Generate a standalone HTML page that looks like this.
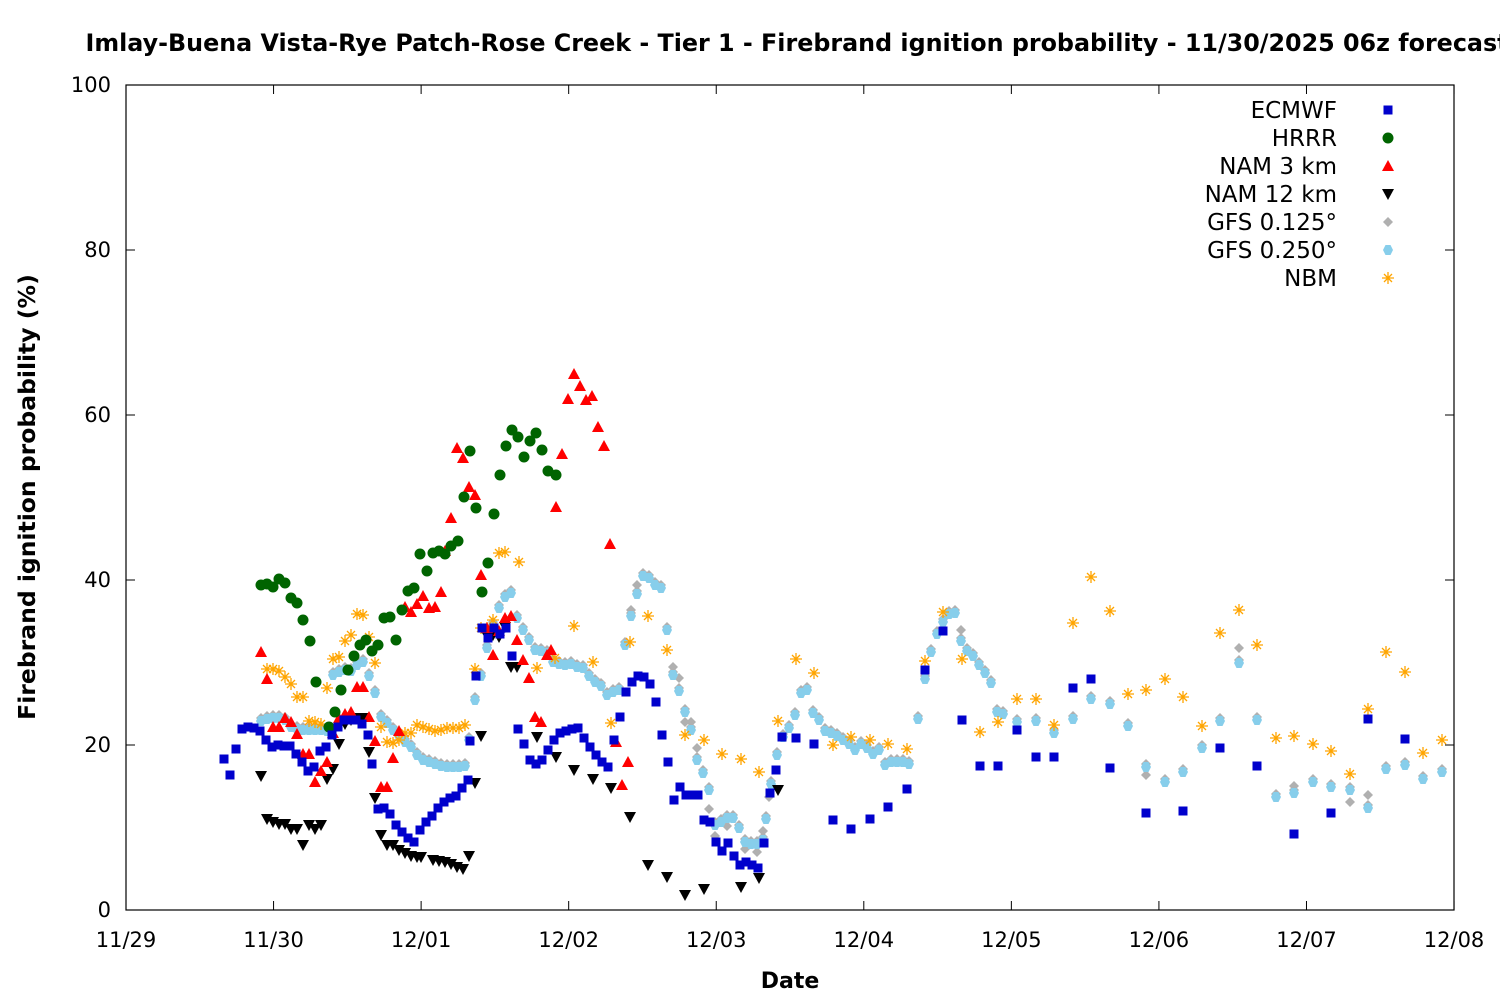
<!DOCTYPE html>
<html><head><meta charset="utf-8"><style>body{margin:0;background:#fff}svg{display:block}text{font-family:"DejaVu Sans","Liberation Sans",sans-serif}</style></head>
<body>
<svg id="s" width="1500" height="1000" xmlns="http://www.w3.org/2000/svg">
<text x="797" y="51" font-size="23.8" font-weight="bold" text-anchor="middle">Imlay-Buena Vista-Rye Patch-Rose Creek - Tier 1 - Firebrand ignition probability - 11/30/2025 06z forecast</text>
<text x="790" y="988" font-size="22" font-weight="bold" text-anchor="middle">Date</text>
<text transform="translate(35,497) rotate(-90)" font-size="23.5" font-weight="bold" text-anchor="middle">Firebrand ignition probability (%)</text>
<rect x="126" y="85" width="1328" height="825" fill="none" stroke="#000" stroke-width="1.2"/>
<g id="ax" font-size="21"></g>
<g id="pts"></g>
<g font-size="23" text-anchor="end">
<text x="1337" y="118">ECMWF</text><text x="1337" y="146">HRRR</text><text x="1337" y="174">NAM 3 km</text><text x="1337" y="202">NAM 12 km</text><text x="1337" y="230">GFS 0.125°</text><text x="1337" y="258">GFS 0.250°</text><text x="1337" y="286">NBM</text>
</g>
</svg>
<script>
const ax=document.getElementById('ax');let h='';
for(let i=0;i<=5;i++){const y=910-i*165;h+=`<line x1="126" y1="${y}" x2="135" y2="${y}" stroke="#000"/><line x1="1454" y1="${y}" x2="1445" y2="${y}" stroke="#000"/><text x="111" y="${y+7}" text-anchor="end">${i*20}</text>`;}
const d=["11/29","11/30","12/01","12/02","12/03","12/04","12/05","12/06","12/07","12/08"];
for(let i=0;i<10;i++){const x=126+i*147.56;h+=`<line x1="${x}" y1="910" x2="${x}" y2="901" stroke="#000"/><line x1="${x}" y1="85" x2="${x}" y2="94" stroke="#000"/><text x="${x}" y="947" text-anchor="middle">${d[i]}</text>`;}
ax.innerHTML=h;
function P(s){return s.match(/-?\d+/g).map(Number).reduce((a,v,i)=>{if(i%2==0)a.push([v]);else a[a.length-1].push(v);return a;},[]);}
const EC=P("(224,759),(230,775),(236,749),(242,729),(248,727),(254,728),(260,731),(266,740),(272,747),(278,745),(284,746),(290,746),(296,754),(302,762),(308,771),(314,767),(320,751),(326,747),(332,735),(338,727),(344,720),(350,720),(356,720),(362,724),(368,735),(372,764),(378,809),(384,808),(390,814),(396,825),(402,832),(408,838),(414,842),(420,830),(426,822),(432,816),(438,808),(444,802),(450,798),(456,796),(462,788),(468,780),(470,741),(476,676),(482,628),(488,638),(494,628),(500,634),(506,628),(512,656),(518,729),(524,744),(530,760),(536,764),(542,760),(548,750),(554,740),(560,733),(566,731),(572,729),(578,728),(584,738),(590,747),(596,755),(602,762),(608,767),(614,740),(620,717),(626,692),(632,682),(638,676),(644,677),(650,684),(656,702),(662,735),(668,762),(674,800),(680,787),(686,795),(692,795),(698,795),(704,820),(710,822),(716,842),(722,851),(728,843),(734,856),(740,865),(746,862),(752,865),(758,868),(764,843),(770,793),(776,770),(782,737),(796,738),(814,744),(833,820),(851,829),(870,819),(888,807),(907,789),(925,670),(943,631),(962,720),(980,766),(998,766),(1017,730),(1036,757),(1054,757),(1073,688),(1091,679),(1110,768),(1146,813),(1183,811),(1220,748),(1257,766),(1294,834),(1331,813),(1368,719),(1405,739)");
const HR=P("(261,585),(267,584),(273,587),(279,579),(285,583),(291,598),(297,603),(303,620),(310,641),(316,682),(329,727),(335,712),(341,690),(348,670),(354,656),(360,645),(366,640),(372,651),(378,645),(384,618),(390,617),(396,640),(402,610),(408,591),(414,588),(420,554),(427,571),(433,553),(439,551),(445,554),(451,546),(458,541),(464,497),(470,451),(476,508),(482,592),(488,563),(494,514),(500,475),(506,446),(512,430),(518,437),(524,457),(530,441),(536,433),(542,450),(548,471),(556,475)");
const N3=P("(261,652),(267,679),(273,727),(279,727),(285,718),(291,722),(297,734),(303,754),(309,754),(315,782),(321,771),(327,762),(333,733),(339,718),(345,714),(351,712),(357,687),(363,687),(369,717),(375,741),(381,787),(387,787),(393,758),(399,731),(405,607),(411,612),(417,604),(423,596),(429,608),(435,607),(441,592),(445,551),(451,518),(457,448),(463,458),(469,487),(475,495),(481,575),(487,628),(493,655),(499,631),(505,618),(511,616),(517,640),(523,660),(529,678),(535,717),(541,722),(547,655),(551,650),(556,507),(562,454),(568,399),(574,374),(580,386),(586,400),(592,396),(598,427),(604,446),(610,544),(616,742),(622,785),(628,762)");
const N12=P("(261,776),(267,819),(273,822),(279,824),(285,824),(291,829),(297,829),(303,845),(309,825),(315,829),(321,825),(327,779),(333,769),(339,744),(345,724),(351,720),(357,718),(363,718),(369,752),(375,798),(381,835),(387,845),(393,845),(399,850),(405,853),(411,856),(417,857),(421,857),(433,860),(439,861),(445,862),(451,864),(457,867),(463,869),(469,856),(475,783),(481,736),(487,636),(493,635),(499,637),(505,627),(511,667),(517,667),(537,737),(556,757),(574,770),(593,779),(611,788),(630,817),(648,865),(667,877),(685,895),(704,889),(741,887),(759,878),(778,790)");
const G2=P("(261,721),(267,719),(273,718),(279,718),(285,720),(291,727),(297,729),(303,730),(309,730),(315,730),(321,730),(327,731),(333,675),(339,672),(345,670),(351,671),(357,665),(363,662),(369,676),(375,693),(381,717),(387,723),(393,730),(399,736),(405,742),(411,747),(417,755),(423,760),(429,762),(435,764),(441,766),(447,767),(453,767),(459,767),(465,766),(469,740),(475,700),(481,676),(487,648),(493,625),(499,608),(505,597),(511,593),(517,618),(523,630),(529,640),(535,650),(541,651),(547,653),(553,662),(559,664),(565,665),(571,664),(577,667),(583,668),(589,676),(595,682),(601,686),(607,695),(613,692),(619,690),(625,645),(631,616),(637,594),(643,576),(649,578),(655,585),(661,588),(667,630),(673,675),(679,691),(685,712),(691,730),(697,760),(703,773),(709,790),(715,825),(721,822),(727,818),(733,818),(739,828),(745,842),(751,844),(757,844),(763,840),(766,819),(771,784),(777,755),(783,737),(789,728),(795,715),(801,693),(807,690),(813,713),(819,720),(825,731),(831,733),(837,736),(843,740),(849,744),(855,750),(861,744),(867,748),(873,754),(879,750),(885,765),(891,762),(897,762),(903,762),(909,764),(918,719),(925,679),(931,652),(937,634),(943,622),(949,614),(955,613),(961,641),(967,651),(973,656),(979,665),(985,673),(991,683),(997,712),(1003,714),(1017,722),(1036,721),(1054,733),(1073,719),(1091,699),(1110,704),(1128,726),(1146,767),(1165,782),(1183,772),(1202,748),(1220,721),(1239,663),(1257,720),(1276,797),(1294,793),(1313,782),(1331,787),(1350,790),(1368,808),(1386,769),(1405,765),(1423,779),(1442,772)");
const G1=G2.map(p=>[p[0],p[1]-3]).concat(P("(631,610),(637,585),(673,667),(679,678),(685,722),(691,722),(697,748),(709,809),(715,836),(727,826),(745,849),(757,852),(763,831),(769,797),(961,630),(1146,775),(1239,648),(1294,786),(1350,802),(1368,795)"));
const NB=P("(267,669),(273,669),(279,671),(285,677),(291,684),(297,697),(303,697),(309,721),(315,722),(321,724),(327,688),(333,659),(339,657),(345,641),(351,635),(357,614),(363,615),(369,637),(375,663),(381,727),(387,742),(393,743),(399,740),(405,733),(411,733),(417,725),(423,727),(429,729),(435,731),(441,730),(447,728),(453,728),(459,728),(465,725),(475,669),(481,628),(487,628),(493,620),(499,553),(505,552),(519,562),(537,668),(555,658),(574,626),(593,662),(611,723),(630,642),(648,616),(667,650),(685,735),(704,740),(722,754),(741,759),(759,772),(778,721),(796,659),(814,673),(833,745),(851,737),(870,740),(888,744),(907,749),(925,661),(943,612),(962,659),(980,732),(998,722),(1017,699),(1036,699),(1054,725),(1073,623),(1091,577),(1110,611),(1128,694),(1146,690),(1165,679),(1183,697),(1202,726),(1220,633),(1239,610),(1257,645),(1276,738),(1294,736),(1313,744),(1331,751),(1350,774),(1368,709),(1386,652),(1405,672),(1423,753),(1442,740)");
const M={
sq:(x,y)=>`<rect x="${x-4.5}" y="${y-4.5}" width="9" height="9" fill="#0000cc"/>`,
ci:(x,y)=>`<circle cx="${x}" cy="${y}" r="5.5" fill="#006400"/>`,
tu:(x,y)=>`<polygon points="${x},${y-6} ${x+6},${y+5} ${x-6},${y+5}" fill="#f00"/>`,
td:(x,y)=>`<polygon points="${x},${y+6} ${x+6},${y-5} ${x-6},${y-5}" fill="#000"/>`,
di:(x,y)=>`<polygon points="${x},${y-5} ${x+5},${y} ${x},${y+5} ${x-5},${y}" fill="#b0b0b0"/>`,
hx:(x,y)=>`<polygon points="${x-5},${y} ${x-2.5},${y-5} ${x+2.5},${y-5} ${x+5},${y} ${x+2.5},${y+5} ${x-2.5},${y+5}" fill="#87ceeb"/>`,
st:(x,y)=>`<path d="M${x-6} ${y}H${x+6}M${x} ${y-6}V${y+6}M${x-4} ${y-4}L${x+4} ${y+4}M${x-4} ${y+4}L${x+4} ${y-4}" stroke="#ffa500" stroke-width="1.3"/>`};
let o='';
const S=[[G1,'di'],[G2,'hx'],[NB,'st'],[N12,'td'],[N3,'tu'],[HR,'ci'],[EC,'sq']];
for(const [a,m] of S) for(const p of a) o+=M[m](p[0],p[1]);
const L=[['sq',110],['ci',138],['tu',166],['td',194],['di',222],['hx',250],['st',278]];
for(const [m,y] of L) o+=M[m](1388,y);
document.getElementById('pts').innerHTML=o;
</script>
</body></html>
